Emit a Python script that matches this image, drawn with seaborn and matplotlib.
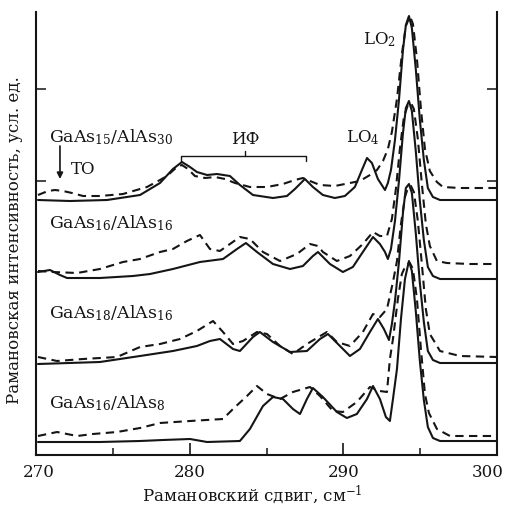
import matplotlib
matplotlib.use("Agg")
import matplotlib.pyplot as plt
import matplotlib.transforms as mtransforms
import seaborn as sns
import pandas as pd

sns.set_theme(style="ticks")
plt.rcParams['font.family'] = ['DejaVu Serif']
plt.rcParams['mathtext.fontset'] = 'dejavuserif'

# Raman spectra, intensity in arbitrary units (curves already offset)
# GaAs15/AlAs30
x1s = [270.13, 272.21, 274.62, 276.77, 278.07, 278.91, 279.50, 280.02, 280.47, 281.13,
       281.78, 282.62, 283.27, 284.12, 285.42, 286.33, 286.85, 287.50, 288.02, 288.67,
       289.45, 290.10, 290.75, 291.21, 291.54, 291.86, 292.25, 292.71, 292.90, 293.10,
       293.36, 293.62, 293.88, 294.07, 294.27, 294.46, 294.72, 294.98, 295.24, 295.50,
       295.83, 296.29, 300.0]
y1s = [255, 254, 255, 260, 272, 286, 293, 288, 283, 280,
       281, 279, 270, 260, 257, 259, 266, 276, 268, 260,
       257, 259, 268, 285, 297, 292, 276, 265, 272, 285,
       315, 355, 405, 430, 439, 427, 385, 335, 295, 267,
       258, 255, 255]
x1d = [270.13, 270.78, 271.24, 271.76, 272.34, 273.06, 274.16, 275.66, 277.22, 278.07,
       278.52, 279.17, 279.50, 279.89, 280.34, 281.00, 281.65, 282.30, 282.95, 283.92,
       285.03, 286.07, 286.85, 287.37, 287.83, 288.48, 289.45, 290.43, 291.08, 291.73,
       292.19, 292.58, 292.90, 293.16, 293.49, 293.81, 294.07, 294.33, 294.53, 294.79,
       295.05, 295.31, 295.63, 296.09, 296.48, 297.59, 300.0]
y1d = [260, 264, 265, 264, 262, 259, 259, 261, 268, 275,
       279, 288, 290, 286, 279, 277, 278, 276, 272, 268,
       268, 271, 275, 277, 274, 270, 269, 272, 274, 280,
       285, 294, 306, 323, 356, 401, 429, 439, 431, 396,
       346, 306, 284, 273, 268, 267, 267]

# GaAs16/AlAs16
x2s = [270.13, 270.91, 271.56, 272.02, 274.16, 276.31, 277.42, 278.91, 280.67, 282.17,
       283.08, 283.66, 284.38, 285.42, 286.53, 287.37, 288.02, 288.35, 289.13, 289.97,
       290.62, 291.27, 291.93, 292.38, 292.71, 292.90, 293.10, 293.36, 293.62, 293.88,
       294.07, 294.27, 294.46, 294.72, 294.98, 295.24, 295.50, 295.83, 296.29, 300.0]
y2s = [183, 185, 180, 177, 177, 179, 181, 186, 193, 196,
       206, 212, 203, 191, 186, 189, 199, 203, 191, 183,
       188, 203, 218, 211, 203, 196, 206, 234, 274, 322,
       347, 354, 344, 303, 254, 215, 188, 179, 176, 176]
x2d = [270.13, 271.11, 272.67, 274.16, 275.66, 276.77, 278.07, 278.91, 279.82, 280.67,
       281.32, 281.97, 282.62, 283.27, 283.92, 284.77, 285.88, 286.98, 287.83, 288.35,
       288.67, 289.58, 290.43, 291.27, 291.93, 292.38, 292.84, 293.16, 293.42, 293.68,
       293.94, 294.20, 294.40, 294.59, 294.85, 295.11, 295.37, 295.63, 296.09, 296.74,
       298.24, 300.0]
y2d = [184, 183, 182, 186, 193, 196, 203, 206, 214, 220,
       206, 204, 211, 218, 216, 203, 194, 201, 211, 209,
       203, 194, 199, 211, 223, 219, 219, 236, 266, 306,
       338, 350, 352, 346, 316, 271, 231, 209, 194, 192,
       191, 191]

# GaAs18/AlAs16
x3s = [270.13, 274.16, 276.77, 278.91, 280.47, 281.32, 281.97, 282.82, 283.27, 284.12,
       284.57, 285.42, 286.53, 287.63, 288.48, 289.00, 289.78, 290.43, 291.08, 291.73,
       292.25, 292.64, 292.97, 293.16, 293.36, 293.62, 293.88, 294.07, 294.27, 294.46,
       294.72, 294.98, 295.24, 295.50, 295.83, 296.29, 300.0]
y3s = [91, 93, 99, 104, 109, 114, 116, 106, 104, 118,
       123, 113, 103, 104, 116, 121, 109, 99, 106, 123,
       136, 126, 115, 131, 154, 193, 242, 267, 271, 262,
       221, 172, 133, 104, 95, 92, 92]
x3d = [270.13, 271.37, 273.06, 275.27, 276.77, 278.07, 279.37, 280.47, 281.52, 282.17,
       282.82, 283.47, 284.38, 285.03, 285.88, 286.72, 287.63, 288.93, 289.58, 290.43,
       291.27, 291.93, 292.38, 292.84, 293.23, 293.49, 293.75, 294.01, 294.20, 294.40,
       294.59, 294.85, 295.11, 295.37, 295.63, 296.29, 297.59, 300.0]
y3d = [98, 94, 96, 98, 108, 111, 116, 124, 134, 123,
       111, 114, 123, 121, 109, 101, 111, 123, 113, 109,
       123, 141, 138, 146, 173, 194, 231, 258, 267, 269,
       263, 234, 191, 146, 121, 104, 99, 98]

# GaAs16/AlAs8
x4s = [270.13, 274.16, 276.77, 278.26, 280.02, 281.13, 283.27, 283.92, 284.77, 285.42,
       286.07, 286.72, 287.18, 287.63, 288.02, 288.67, 289.58, 290.23, 290.88, 291.54,
       291.93, 292.38, 292.77, 293.03, 293.23, 293.49, 293.75, 294.01, 294.27, 294.46,
       294.72, 294.98, 295.24, 295.50, 295.83, 296.29, 300.0]
y4s = [13, 13, 14, 15, 16, 13, 14, 26, 49, 58,
       56, 46, 41, 56, 67, 58, 43, 37, 41, 56,
       69, 56, 38, 34, 56, 86, 136, 176, 194, 184,
       143, 94, 55, 28, 17, 14, 14]
x4d = [270.13, 271.37, 272.67, 273.71, 275.27, 276.77, 278.07, 280.02, 282.17, 282.82,
       283.73, 284.38, 285.03, 285.88, 286.72, 287.83, 288.48, 289.32, 289.97, 290.88,
       291.73, 292.38, 292.84, 293.03, 293.23, 293.55, 293.81, 294.07, 294.33, 294.53,
       294.79, 295.05, 295.31, 295.57, 296.09, 296.94, 300.0]
y4d = [19, 23, 19, 21, 23, 27, 32, 34, 36, 46,
       59, 69, 61, 56, 63, 68, 59, 44, 43, 53,
       68, 64, 63, 96, 116, 156, 181, 190, 192, 186,
       156, 106, 61, 42, 26, 19, 19]

samples = ["GaAs$_{15}$/AlAs$_{30}$", "GaAs$_{16}$/AlAs$_{16}$",
           "GaAs$_{18}$/AlAs$_{16}$", "GaAs$_{16}$/AlAs$_{8}$"]
label_y = [319, 233, 143, 53]

series = [(x1s, y1s, "solid"), (x1d, y1d, "dash"),
          (x2s, y2s, "solid"), (x2d, y2d, "dash"),
          (x3s, y3s, "solid"), (x3d, y3d, "dash"),
          (x4s, y4s, "solid"), (x4d, y4d, "dash")]

ink = "#151515"
fig = plt.figure(figsize=(5.05, 5.06), dpi=100)
ax = fig.add_axes([36/505, 50/506, 461/505, 443/506])

for xs, ys, kind in series:
    df = pd.DataFrame({"x": xs, "y": ys})
    ls = "-" if kind == "solid" else (0, (4, 2.6))
    sns.lineplot(data=df, x="x", y="y", ax=ax, color=ink, linewidth=1.5,
                 linestyle=ls, estimator=None)

ax.set_xlim(270, 300)
ax.set_ylim(0, 443)
ax.set_xticks([270, 280, 290, 300])
ax.set_xticks([275, 285, 295], minor=True)
ax.set_yticks([274, 366])
ax.set_yticklabels([])
ax.tick_params(axis="x", which="major", direction="in", length=8.5, width=1.2,
               labelsize=12, pad=6, colors=ink)
ax.tick_params(axis="x", which="minor", direction="in", length=5, width=1.2)
ax.tick_params(axis="y", direction="in", length=7, width=1.2, left=True, right=True)
for s in ["left", "right", "bottom"]:
    ax.spines[s].set_linewidth(1.5)
    ax.spines[s].set_color(ink)
ax.spines["top"].set_visible(False)

# nudge the end tick labels inward, as in the original
labels = ax.get_xticklabels()
labels[0].set_transform(labels[0].get_transform() +
                        mtransforms.ScaledTranslation(3/100, 0, fig.dpi_scale_trans))
labels[-1].set_transform(labels[-1].get_transform() +
                         mtransforms.ScaledTranslation(-9/100, 0, fig.dpi_scale_trans))

ax.set_xlabel("Рамановский сдвиг, см$^{-1}$", fontsize=12, color=ink)
ax.xaxis.set_label_coords(0.47, -0.062)
ax.set_ylabel("Рамановская интенсивность, усл. ед.", fontsize=12, color=ink)
ax.yaxis.set_label_coords(-0.028, 0.488)

for name, yy in zip(samples, label_y):
    ax.text(270.85, yy, name, fontsize=12.5, color=ink, ha="left", va="center")

ax.annotate("", xy=(271.56, 276), xytext=(271.56, 309),
            arrowprops=dict(arrowstyle="-|>", color=ink, lw=1.2,
                            mutation_scale=9, shrinkA=0, shrinkB=0))
ax.text(272.3, 286, "TO", fontsize=12, color=ink, ha="left", va="center")

# bracket for interface modes
ax.plot([279.43, 279.43, 287.57, 287.57], [294, 299, 299, 294], color=ink, lw=1.0)
ax.plot([283.6, 283.6], [299, 304], color=ink, lw=1.0)
ax.text(283.6, 316, "ИФ", fontsize=12, color=ink, ha="center", va="center")
ax.text(291.27, 318, "LO$_4$", fontsize=12, color=ink, ha="center", va="center")
ax.text(292.38, 416, "LO$_2$", fontsize=12, color=ink, ha="center", va="center")

plt.savefig("out.png", dpi=100)
